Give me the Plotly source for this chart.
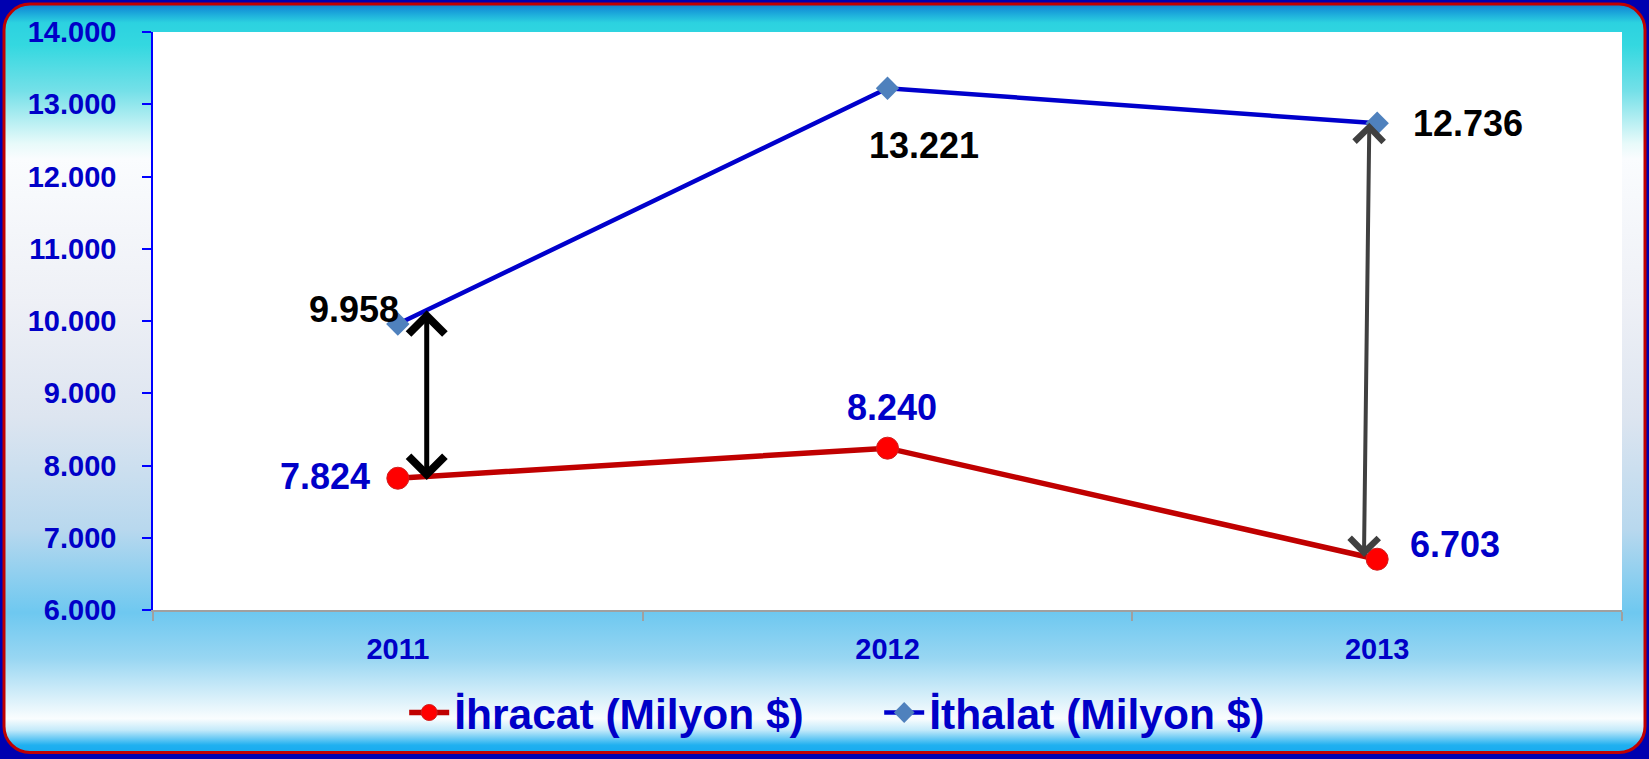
import base64
import numpy as np
import plotly.graph_objects as go

# ---------------- data ----------------
years = ["2011", "2012", "2013"]
ihracat = [7824, 8240, 6703]      # exports (million $)
ithalat = [9958, 13221, 12736]    # imports (million $)
y_ticks = [6000, 7000, 8000, 9000, 10000, 11000, 12000, 13000, 14000]
series_names = ["İhracat (Milyon $)", "İthalat (Milyon $)"]

# ---------------- layout constants ----------------
W, H = 1649, 759
ML, MR, MT, MB = 153, 27, 32, 147
PW, PH = W - ML - MR, H - MT - MB
FONT = "Liberation Sans, Arial, sans-serif"
BLUE_TXT = "#0000c8"


def fmt(v):
    return f"{v:,}".replace(",", ".")


# background: gradient panel with red rounded border (svg image)
svg = f'''<svg xmlns="http://www.w3.org/2000/svg" width="{W}" height="{H}" viewBox="0 0 {W} {H}" preserveAspectRatio="none">
<defs><linearGradient id="g" gradientUnits="userSpaceOnUse" x1="0" y1="0" x2="0" y2="{H}">
<stop offset="0" stop-color="#0a6fd0"/>
<stop offset="0.012" stop-color="#1596d8"/>
<stop offset="0.03" stop-color="#2cd2e0"/>
<stop offset="0.06" stop-color="#34d8e0"/>
<stop offset="0.12" stop-color="#74e0e8"/>
<stop offset="0.19" stop-color="#e8fafa"/>
<stop offset="0.21" stop-color="#fafcfe"/>
<stop offset="0.40" stop-color="#eef0f6"/>
<stop offset="0.55" stop-color="#dde5f0"/>
<stop offset="0.70" stop-color="#b8d8ee"/>
<stop offset="0.81" stop-color="#6ec8f0"/>
<stop offset="0.87" stop-color="#98d6f2"/>
<stop offset="0.95" stop-color="#fafdfe"/>
<stop offset="0.965" stop-color="#c4eafa"/>
<stop offset="0.985" stop-color="#20b0f0"/>
<stop offset="1" stop-color="#10a8f0"/>
</linearGradient></defs>
<rect x="0" y="0" width="{W}" height="{H}" fill="#0000b0"/>
<rect x="4" y="4" width="{W-8}" height="{H-8}" rx="26" ry="26" fill="url(#g)" stroke="#c00000" stroke-width="3"/>
</svg>'''
src = "data:image/svg+xml;base64," + base64.b64encode(svg.encode()).decode()

fig = go.Figure()

fig.add_trace(go.Scatter(
    x=years, y=ihracat, name=series_names[0], mode="lines+markers",
    line=dict(color="#c00000", width=5.5),
    marker=dict(symbol="circle", size=22, color="#ff0000",
                line=dict(color="#d02020", width=1)),
))
fig.add_trace(go.Scatter(
    x=years, y=ithalat, name=series_names[1], mode="lines+markers",
    line=dict(color="#0000cc", width=4.5),
    marker=dict(symbol="diamond", size=18, color="#4f81bd",
                line=dict(color="#4f81bd", width=0)),
))

annotations = []
# data labels
imp_offsets = [(-44, 15), (36, -57), (91, 0)]
exp_offsets = [(-73, 2), (4, 41), (78, 15)]
for i, v in enumerate(ithalat):
    dx, dy = imp_offsets[i]
    annotations.append(dict(x=i, y=v, xref="x", yref="y", text=fmt(v),
                            showarrow=False, xshift=dx, yshift=dy, xanchor="center",
                            yanchor="middle",
                            font=dict(family=FONT, size=36, color="#000000", weight="bold")))
for i, v in enumerate(ihracat):
    dx, dy = exp_offsets[i]
    annotations.append(dict(x=i, y=v, xref="x", yref="y", text=fmt(v),
                            showarrow=False, xshift=dx, yshift=dy, xanchor="center",
                            yanchor="middle",
                            font=dict(family=FONT, size=36, color=BLUE_TXT, weight="bold")))


def interp(series, xpos):
    return float(np.interp(xpos, range(len(series)), series))


# gap arrows (import vs export) at 2011 and 2013
arrows = [
    dict(top_x=0.059, bot_x=0.059, color="#000000", width=5, top_pad=0, bot_pad=70),
    dict(top_x=1.984, bot_x=1.973, color="#404040", width=4, top_pad=0, bot_pad=30),
]
for a in arrows:
    ytop = interp(ithalat, a["top_x"]) + a["top_pad"]
    ybot = interp(ihracat, a["bot_x"]) - a["bot_pad"]
    annotations.append(dict(
        x=a["top_x"], y=ytop, ax=a["bot_x"], ay=ybot,
        xref="x", yref="y", axref="x", ayref="y", text="",
        showarrow=True, arrowhead=4, startarrowhead=4, arrowside="end+start",
        arrowsize=1.4, startarrowsize=1.4, arrowwidth=a["width"], arrowcolor=a["color"],
        standoff=0, startstandoff=0,
    ))

fig.update_layout(
    width=W, height=H,
    margin=dict(l=ML, r=MR, t=MT, b=MB, pad=0),
    paper_bgcolor="#0000b0",
    plot_bgcolor="#ffffff",
    separators=",.",
    font=dict(family=FONT),
    showlegend=True,
    legend=dict(orientation="h", x=0.171, xanchor="left", y=-0.178, yanchor="middle",
                bgcolor="rgba(0,0,0,0)",
                font=dict(family=FONT, size=42.5, color=BLUE_TXT, weight="bold"),
                itemwidth=40, entrywidth=420, entrywidthmode="pixels"),
    images=[dict(source=src, xref="paper", yref="paper",
                 x=-ML / PW, y=1 + MT / PH, sizex=W / PW, sizey=H / PH,
                 xanchor="left", yanchor="top", sizing="stretch", layer="below")],
    shapes=[dict(type="rect", xref="paper", yref="paper", x0=0, x1=1, y0=0, y1=1,
                 fillcolor="#ffffff", line=dict(width=0), layer="below")],
    annotations=annotations,
)

fig.update_xaxes(
    type="category", range=[-0.5, 2.5], showgrid=False, zeroline=False,
    showline=True, linecolor="#a0a0a0", linewidth=1.5,
    ticks="outside", tickson="boundaries", ticklen=9, tickcolor="#a0a0a0", tickwidth=1.5,
    ticklabelstandoff=12,
    tickfont=dict(family=FONT, size=29, color=BLUE_TXT, weight="bold"),
)
fig.update_yaxes(
    range=[y_ticks[0], y_ticks[-1]], tickvals=y_ticks, tickformat=",",
    showgrid=False, zeroline=False,
    showline=True, linecolor="#0000ff", linewidth=1.5,
    ticks="outside", ticklen=9, tickcolor="#0000ff", tickwidth=1.5,
    ticklabelstandoff=20,
    tickfont=dict(family=FONT, size=29, color=BLUE_TXT, weight="bold"),
)

fig.write_html(
    "out.html",
    config={"displayModeBar": False},
    post_script="document.body.style.margin='0';document.body.style.overflow='hidden';",
)
